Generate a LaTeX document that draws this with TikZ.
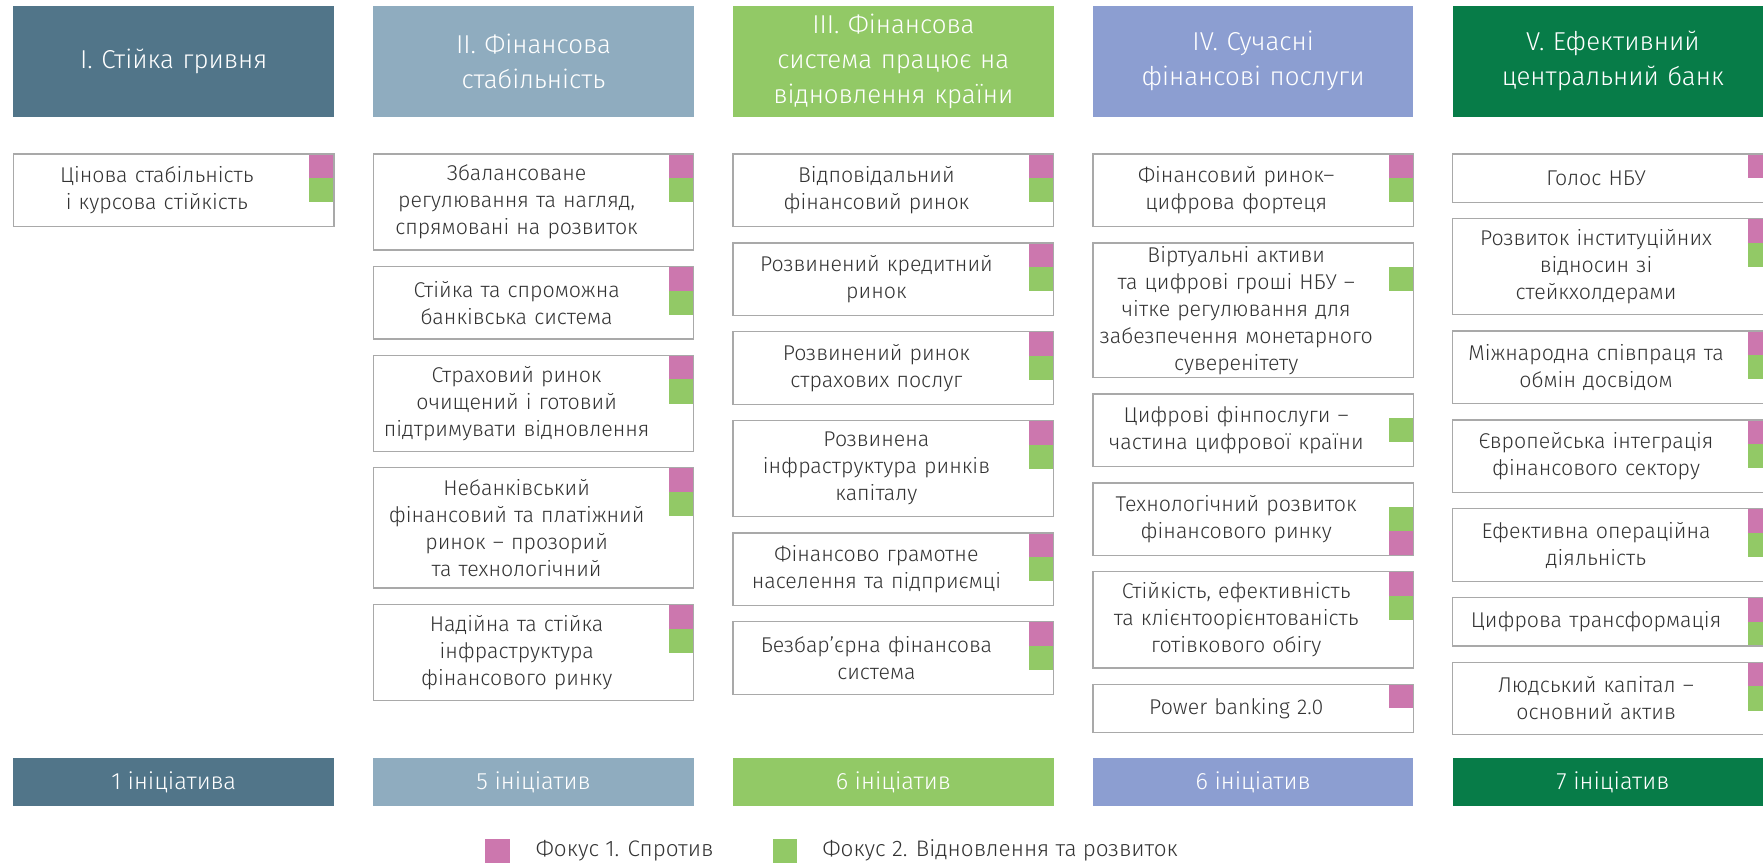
\documentclass[tikz,border=0pt]{standalone}
\usepackage{fontspec}
\setmainfont{Fira Sans Light}
\usepackage{tikz}
\usetikzlibrary{positioning}

\definecolor{colI}{HTML}{517589}
\definecolor{colII}{HTML}{8FACBF}
\definecolor{colIII}{HTML}{92C966}
\definecolor{colIV}{HTML}{8C9ED1}
\definecolor{colV}{HTML}{077C48}
\definecolor{focuspink}{HTML}{CC77AE}
\definecolor{focusgreen}{HTML}{92C966}
\definecolor{cellborder}{HTML}{A9A9A9}
\definecolor{celltext}{HTML}{333333}

\begin{document}
\begin{tikzpicture}[
            x=1pt, y=1pt,
            node distance=14.5pt,
            headnode/.style={rectangle, fill=#1, text=white, minimum width=285pt, minimum height=99pt, text width=280pt, align=center, inner sep=0pt, outer sep=0pt, font=\fontsize{23}{31}\selectfont},
            countnode/.style={rectangle, fill=#1, text=white, minimum width=285pt, minimum height=43pt, inner sep=0pt, outer sep=0pt, font=\fontsize{21}{24}\selectfont},
            cellnode/.style={rectangle, draw=cellborder, line width=1.2pt, fill=white, text=celltext, minimum width=285pt, text width=280pt, inner xsep=2.5pt, inner ysep=0pt, outer sep=0pt, font=\fontsize{19}{24}\selectfont, execute at begin node={\centering\rightskip=30pt plus 1fil}},
            oneline/.style={minimum height=43pt},
            twoline/.style={minimum height=64.5pt},
            threeline/.style={minimum height=85.5pt},
            fourline/.style={minimum height=107pt},
            fiveline/.style={minimum height=120pt},
            % pink slot, green slot (0 = none)
            flags/.style 2 args={path picture={
                \fill[focuspink] ([yshift={-(#1-1)*21.5pt}]path picture bounding box.north east) rectangle ++(-22pt,-21.5pt);
                \fill[focusgreen] ([yshift={-(#2-1)*21.5pt}]path picture bounding box.north east) rectangle ++(-22pt,-21.5pt);}},
            legendbox/.style={rectangle, fill=#1, minimum size=21.5pt, inner sep=0pt},
            legendtext/.style={text=celltext, inner sep=0pt, font=\fontsize{20}{22}\selectfont},
            ]
            \useasboundingbox (0,0) rectangle (1568,-767);
            \clip (0,0) rectangle (1568,-767);

            % goals
            \node[headnode=colI]     (h1)  at (154.5,-54.5) {I. Стійка гривня};
            \node[headnode=colII]    (h2)  [right=35pt of h1] {II. Фінансова\\стабільність};
            \node[headnode=colIII]   (h3)  [right=35pt of h2] {III. Фінансова\\система працює на\\відновлення країни};
            \node[headnode=colIV]    (h4)  [right=35pt of h3] {IV. Сучасні\\фінансові послуги};
            \node[headnode=colV]     (h5)  [right=35pt of h4] {V. Ефективний\\центральний банк};

            % column I
            \node[cellnode, twoline, flags={1}{2}]   (c11) [below=33pt of h1] {Цінова стабільність\\і курсова стійкість};

            % column II
            \node[cellnode, threeline, flags={1}{2}] (c21) [below=33pt of h2] {Збалансоване\\регулювання та нагляд,\\спрямовані на розвиток};
            \node[cellnode, twoline, flags={1}{2}]   (c22) [below=of c21] {Стійка та спроможна\\банківська система};
            \node[cellnode, threeline, flags={1}{2}] (c23) [below=of c22] {Страховий ринок\\очищений і готовий\\підтримувати відновлення};
            \node[cellnode, fourline, flags={1}{2}]  (c24) [below=of c23] {Небанківський\\фінансовий та платіжний\\ринок – прозорий\\та технологічний};
            \node[cellnode, threeline, flags={1}{2}] (c25) [below=of c24] {Надійна та стійка\\інфраструктура\\фінансового ринку};

            % column III
            \node[cellnode, twoline, flags={1}{2}]   (c31) [below=33pt of h3] {Відповідальний\\фінансовий ринок};
            \node[cellnode, twoline, flags={1}{2}]   (c32) [below=of c31] {Розвинений кредитний\\ринок};
            \node[cellnode, twoline, flags={1}{2}]   (c33) [below=of c32] {Розвинений ринок\\страхових послуг};
            \node[cellnode, threeline, flags={1}{2}] (c34) [below=of c33] {Розвинена\\інфраструктура ринків\\капіталу};
            \node[cellnode, twoline, flags={1}{2}]   (c35) [below=of c34] {Фінансово грамотне\\населення та підприємці};
            \node[cellnode, twoline, flags={1}{2}]   (c36) [below=of c35] {Безбар’єрна фінансова\\система};

            % column IV
            \node[cellnode, twoline, flags={1}{2}]   (c41) [below=33pt of h4] {Фінансовий ринок–\\цифрова фортеця};
            \node[cellnode, fiveline, flags={0}{2}]  (c42) [below=of c41] {Віртуальні активи\\та цифрові гроші НБУ –\\чітке регулювання для\\забезпечення монетарного\\суверенітету};
            \node[cellnode, twoline, flags={0}{2}]   (c43) [below=of c42] {Цифрові фінпослуги –\\частина цифрової країни};
            \node[cellnode, twoline, flags={3}{2}]   (c44) [below=of c43] {Технологічний розвиток\\фінансового ринку};
            \node[cellnode, threeline, flags={1}{2}] (c45) [below=of c44] {Стійкість, ефективність\\та клієнтоорієнтованість\\готівкового обігу};
            \node[cellnode, oneline, flags={1}{0}]   (c46) [below=of c45] {Power banking 2.0};

            % column V
            \node[cellnode, oneline, flags={1}{0}]   (c51) [below=33pt of h5] {Голос НБУ};
            \node[cellnode, threeline, flags={1}{2}] (c52) [below=of c51] {Розвиток інституційних\\відносин зі\\стейкхолдерами};
            \node[cellnode, twoline, flags={1}{2}]   (c53) [below=of c52] {Міжнародна співпраця та\\обмін досвідом};
            \node[cellnode, twoline, flags={1}{2}]   (c54) [below=of c53] {Європейська інтеграція\\фінансового сектору};
            \node[cellnode, twoline, flags={1}{2}]   (c55) [below=of c54] {Ефективна операційна\\діяльність};
            \node[cellnode, oneline, flags={1}{2}]   (c56) [below=of c55] {Цифрова трансформація};
            \node[cellnode, twoline, flags={1}{2}]   (c57) [below=of c56] {Людський капітал –\\основний актив};

            % counts
            \node[countnode=colI]    (n1)  at (154.5,-695.5) {1 ініціатива};
            \node[countnode=colII]   (n2)  [right=35pt of n1] {5 ініціатив};
            \node[countnode=colIII]  (n3)  [right=35pt of n2] {6 ініціатив};
            \node[countnode=colIV]   (n4)  [right=35pt of n3] {6 ініціатив};
            \node[countnode=colV]    (n5)  [right=35pt of n4] {7 ініціатив};

            % legend
            \node[legendbox=focuspink]  (lp)  at (442.5,-756.5) {};
            \node[legendtext]           (lpt) [right=23pt of lp] {Фокус 1. Спротив};
            \node[legendbox=focusgreen] (lg)  at (698.5,-756.5) {};
            \node[legendtext]           (lgt) [right=22pt of lg] {Фокус 2. Відновлення та розвиток};
        \end{tikzpicture}
\end{document}
